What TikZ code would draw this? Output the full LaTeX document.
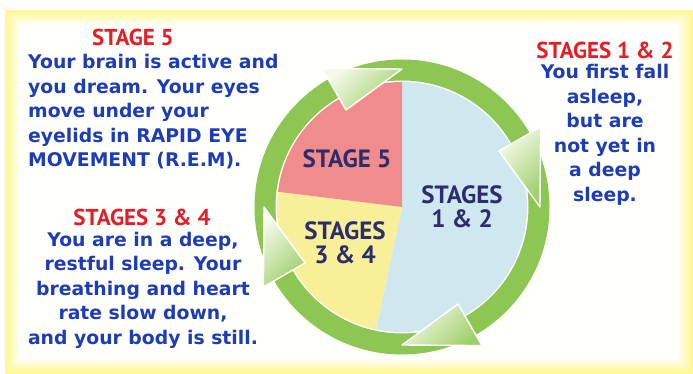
\documentclass[tikz,border=0pt]{standalone}
\usepackage{fontspec}
\setmainfont{PT Sans}
\newfontfamily\bodyfont{DejaVu Sans}
\usetikzlibrary{calc}
\definecolor{ringgreen}{RGB}{141,198,82}
\definecolor{arrowlight}{RGB}{246,250,236}
\definecolor{arrowdark}{RGB}{160,208,108}
\definecolor{glow}{RGB}{255,247,140}
\definecolor{onetwo}{RGB}{207,232,240}
\definecolor{threefour}{RGB}{247,240,152}
\definecolor{five}{RGB}{240,140,140}
\definecolor{bodyblue}{RGB}{30,60,180}
\definecolor{headred}{RGB}{228,30,40}
\definecolor{pienavy}{RGB}{45,45,110}

\begin{document}
\begin{tikzpicture}[x=1pt, y=1pt,
  bodytext/.style={font=\bodyfont\bfseries\fontsize{18.8}{24.5}\selectfont, text=bodyblue, inner sep=0pt},
  headtext/.style={font=\bfseries\fontsize{23}{24}\selectfont, text=headred, inner sep=0pt},
  pietext/.style={font=\bfseries\fontsize{25}{24}\selectfont, text=pienavy, align=center, inner sep=0pt},
  ringarrow/.style={draw=white, line width=1.4pt, line join=round, left color=arrowlight, right color=arrowdark, shading angle=45}]
  \useasboundingbox (0,0) rectangle (693,374);
  % yellow glow of the frame
  \foreach \i [evaluate=\i as \p using 100-6.5*\i] in {0,...,15}
    \fill[glow!\p!white] (5+\i,\i) rectangle (693-\i,364-\i);
  \coordinate (ctr) at (402,167);
  % cycle ring
  \draw[ringgreen, line width=21pt] (ctr) circle[radius=137];
  % pie
  \fill[onetwo] (ctr) -- ($(ctr)+(-102:125)$) arc[start angle=-102, end angle=90, radius=125] -- cycle;
  \fill[threefour] (ctr) -- ($(ctr)+(173:125)$) arc[start angle=173, end angle=258, radius=125] -- cycle;
  \fill[five] (ctr) -- ($(ctr)+(90:125)$) arc[start angle=90, end angle=173, radius=125] -- cycle;
  \foreach \a in {90,0,-90,180}
    \path[ringarrow] ($(ctr)+(\a+30:112)$) -- ($(ctr)+(\a:138)$) -- ($(ctr)+(\a+30:160)$) -- cycle;
  \node[pietext] (p5) at (347,215) {STAGE 5};
  \node[pietext] (p34) at (345,131) {STAGES\\3 \& 4};
  \node[pietext] (p12) at (462,167) {STAGES\\1 \& 2};
  % texts beside the cycle
  \node[headtext] (h5) at (133,337) {STAGE 5};
  \node[bodytext, align=left, anchor=west] (t5) at (28,262) {Your brain is active and\\you dream. Your eyes\\move under your\\eyelids in RAPID EYE\\MOVEMENT (R.E.M).};
  \node[headtext] (h34) at (142,157) {STAGES 3 \& 4};
  \node[bodytext, align=center] (t34) at (143,84) {You are in a deep,\\restful sleep. Your\\breathing and heart\\rate slow down,\\and your body is still.};
  \node[headtext] (h12) at (605,324) {STAGES 1 \& 2};
  \node[bodytext, align=center] (t12) at (605,239) {You first fall\\asleep,\\but are\\not yet in\\a deep\\sleep.};
\end{tikzpicture}
\end{document}
